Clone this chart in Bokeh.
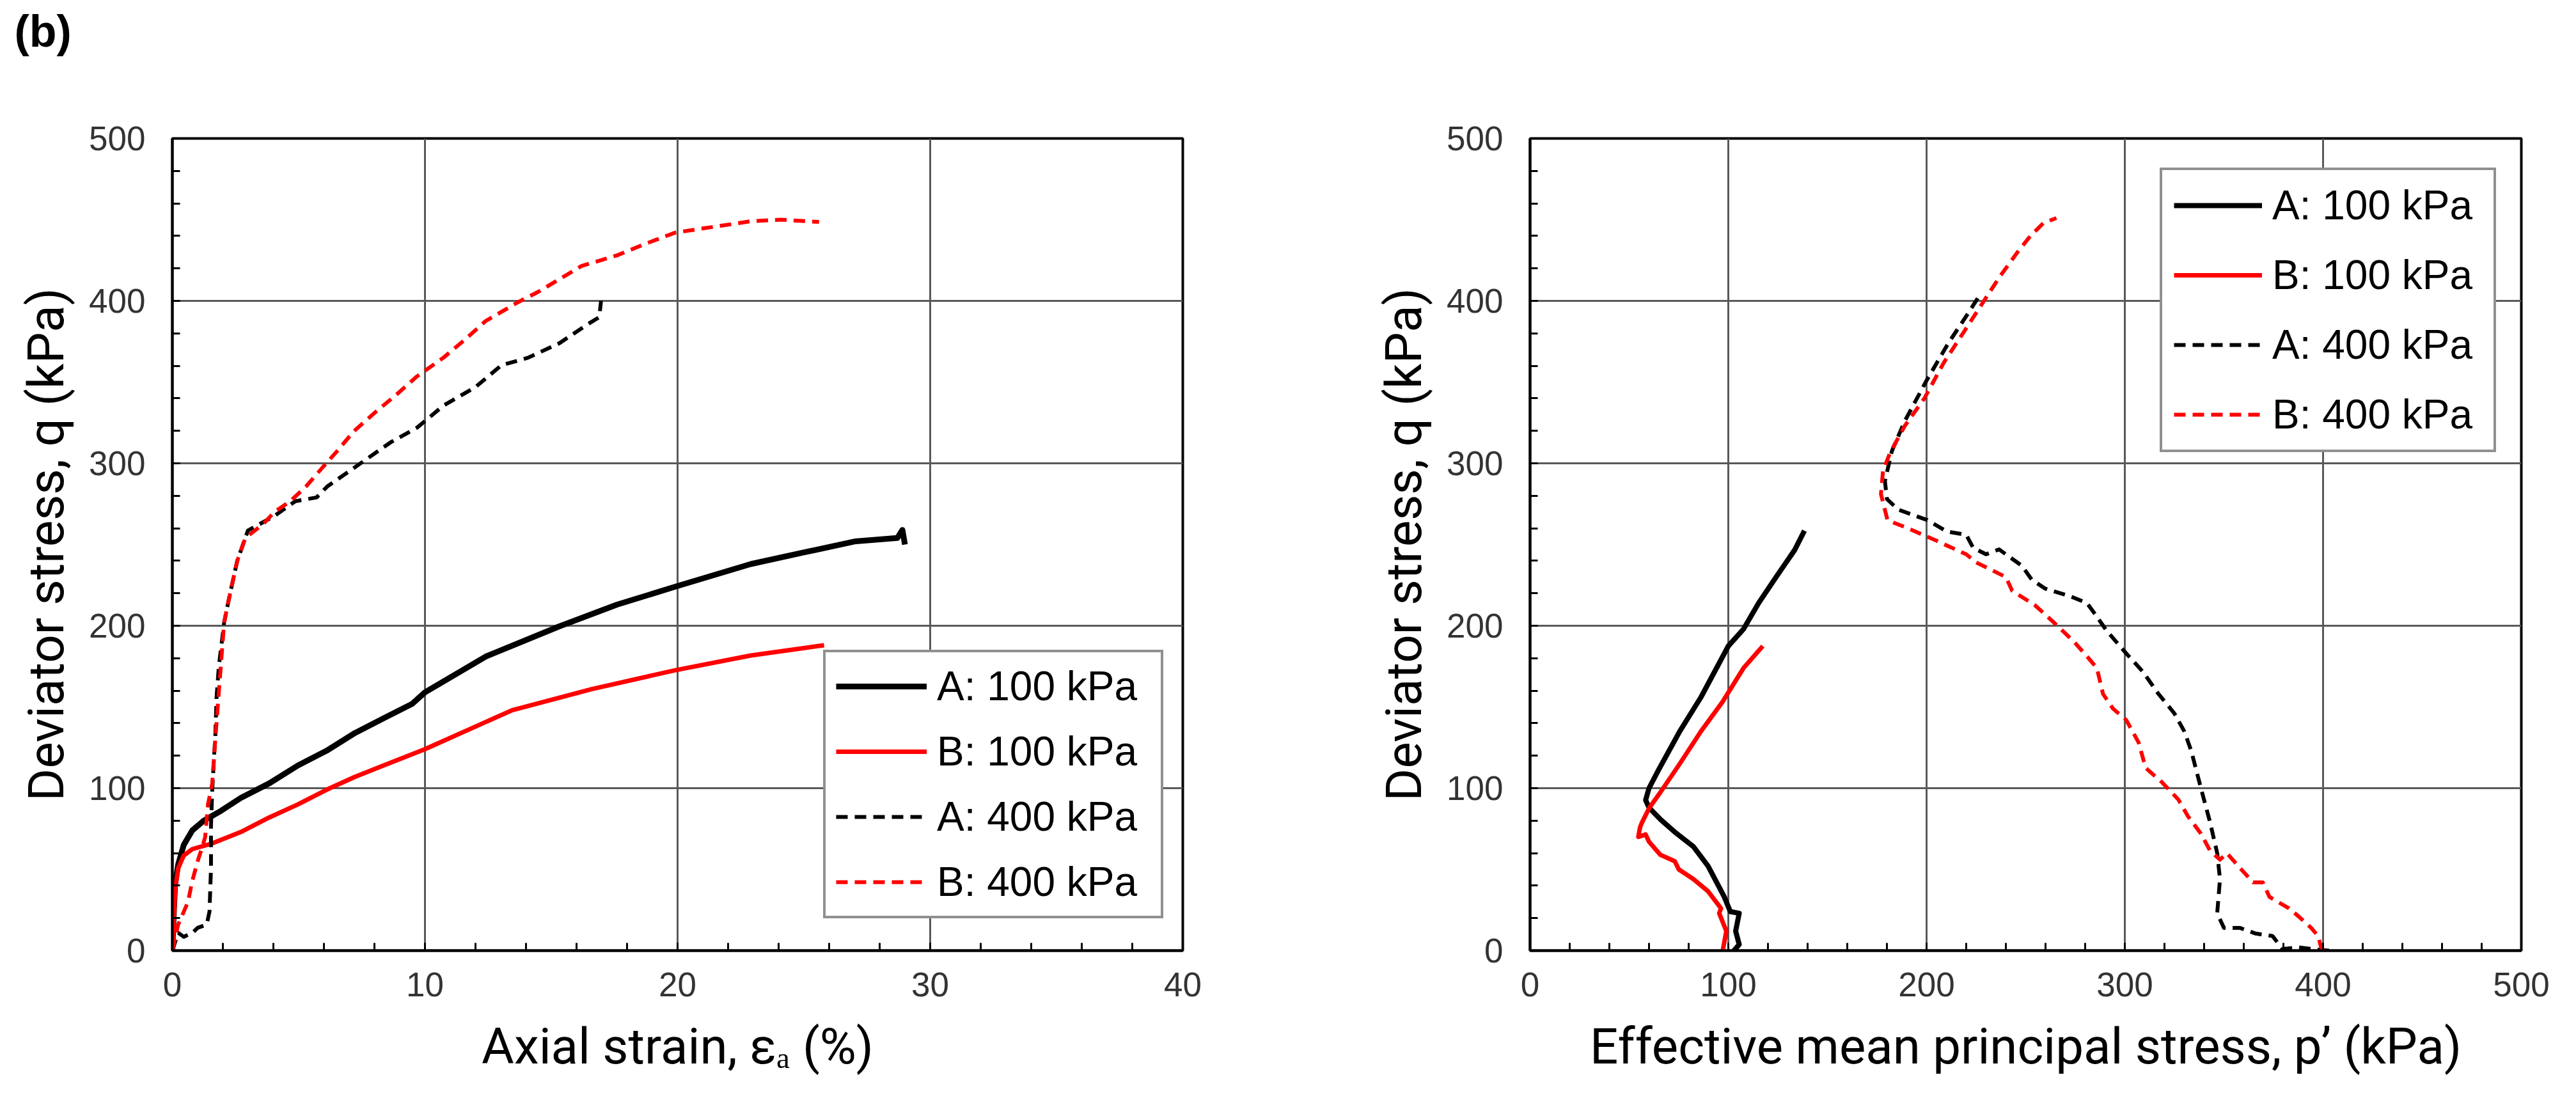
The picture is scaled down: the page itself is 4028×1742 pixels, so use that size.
from bokeh.plotting import figure
from bokeh.models import Range1d, FixedTicker, Title
from bokeh.layouts import row
from bokeh.embed import file_html
from bokeh.resources import INLINE

# ---------------- data: left panel (axial strain %, q kPa) ----------------
a100_strain = [0, 0.06, 0.11, 0.23, 0.45, 0.79, 1.24, 1.92, 2.71, 3.84, 4.97, 6.1, 7.23, 8.36,
               9.5, 10.0, 12.4, 15.3, 17.6, 19.9, 22.9, 24.96, 27.05, 28.7, 28.9, 29.0]
a100_q = [0, 24, 41, 53, 65, 74, 80, 86, 94, 103, 114, 123, 134, 143,
          152, 159, 181, 199.5, 213, 224, 238, 245, 252, 254, 259, 250]

b100_strain = [0, 0.11, 0.23, 0.45, 0.79, 1.58, 2.71, 3.84, 4.97, 6.1, 7.23, 8.36, 10.0,
               13.45, 16.6, 19.9, 22.9, 25.8]
b100_q = [0, 37.5, 50.6, 58.5, 62.5, 66, 73, 82, 90, 99, 107, 114, 124,
          148, 161, 172.6, 181.7, 188]

a400_strain = [0, 0.23, 0.45, 0.8, 1.0, 1.36, 1.47, 1.53, 1.53, 1.58, 1.64, 1.7, 1.75, 1.84,
               2.05, 2.26, 2.57, 2.99, 4.04, 4.87, 5.71, 6.13, 6.97, 7.8, 8.64, 9.69, 10.73,
               11.99, 13.03, 14.08, 15.33, 16.38, 16.9, 16.97]
a400_q = [0, 11, 8.5, 11, 14, 16, 24, 51, 77, 99, 116, 132, 156, 175,
          202, 218, 240, 258.6, 267.6, 276.7, 279, 285.7, 294.8, 303.8, 312.9, 322, 335.5,
          346.8, 360.4, 365, 374, 385, 390, 400]

b400_strain = [0, 0.23, 0.62, 0.79, 1.02, 1.19, 1.3, 1.41, 1.58, 1.7, 1.82, 2.05, 2.26, 2.57,
               2.89, 3.62, 4.04, 4.67, 5.29, 5.92, 6.55, 7.18, 8.0, 8.85, 9.69, 10.73, 11.57,
               12.4, 13.66, 14.5, 16.2, 17.6, 18.7, 19.9, 21.6, 22.9, 24.1, 25.6]
b400_q = [0, 16, 30, 43, 56, 64, 70, 90, 103, 130, 155, 202, 218, 240,
          254, 263, 270, 276.7, 285.7, 297, 308, 319.7, 331, 342, 353.6, 365, 376,
          387.6, 399, 405.7, 421.5, 428, 435, 442, 446, 449, 450, 448.6]

# ---------------- data: right panel (p' kPa, q kPa) ----------------
a100_p = [102.8, 105.5, 103.7, 105.5, 101, 98, 89.8, 82.4, 73, 66, 60, 58.3, 60, 64.7,
          75.5, 86.2, 100, 107.7, 115.3, 123.9, 133.5, 138.4]
a100_pq = [0, 3.8, 12, 23, 24, 33, 52, 64, 73, 80.5, 88, 92.7, 100, 111,
           135, 156, 187.5, 198, 214, 229.6, 246.7, 258.5]

b100_p = [97.2, 99, 95.4, 96.3, 89.8, 82.4, 75, 73, 65.7, 60, 58.3, 54.6, 55.5, 56.5,
          60.2, 65.3, 75.5, 86.2, 97, 107.7, 117.4]
b100_pq = [0, 12, 23, 26, 36.5, 44, 50, 55, 59, 67, 71.5, 70, 76, 79,
           88, 96.7, 115, 135, 153, 174, 187.5]

a400_p = [403, 394, 387.7, 379.5, 374.5, 366, 358, 350, 346.6, 348, 346.6, 343, 338.4,
          333.5, 330, 325, 317, 308.9, 300.7, 290.8, 285.9, 280.9, 272.7, 259.6, 253, 248,
          236.6, 230, 223.5, 220, 210.3, 200.5, 185.7, 180, 179, 182.5, 189, 200, 211,
          219.7, 226]
a400_pq = [0, 1, 2, 1, 9, 10.5, 14, 14, 23, 44, 60, 79, 100,
           123, 135, 146, 158, 172, 183, 197, 205.6, 214, 218, 223, 228.5, 237,
           247, 244, 248, 256, 258, 265, 271.5, 278, 289, 307.5, 326, 351, 374,
           390, 402]

b400_p = [400, 399, 397.5, 394, 387.7, 382.8, 373, 369.6, 364.7, 358, 351.5, 348, 343,
          338.4, 331.9, 327, 318.7, 310.5, 307, 300.7, 294, 289, 285.9, 281, 274.5, 266,
          254.7, 243.2, 240, 225, 220, 203.8, 190.6, 180.3, 177, 178, 181.4, 189, 198.9,
          208.7, 218.6, 228.4, 237, 245.9, 252.4, 259, 265.5]
b400_pq = [0, 2, 9, 14, 21, 26, 33, 42, 42, 51, 60, 56, 61.5,
           72, 82.6, 93, 103.7, 112.5, 128, 142, 149, 158, 174, 181, 190, 200,
           212.6, 221.5, 230, 239, 244, 253, 260, 265, 281, 295, 306, 323, 340,
           362, 380.5, 399, 415, 430, 440, 448, 451]

series_labels = ["A: 100 kPa", "B: 100 kPa", "A: 400 kPa", "B: 400 kPa"]
panel_tag = "(b)"

left_xticks = [0, 10, 20, 30, 40]
left_xminor = [v for v in range(0, 41, 2)]
right_xticks = [0, 100, 200, 300, 400, 500]
right_xminor = [v for v in range(0, 501, 20)]
yticks = [0, 100, 200, 300, 400, 500]
yminor = [v for v in range(0, 501, 20)]

TICK_FONT = "Liberation Sans"
TITLE_FONT = "Roboto"
BLACK = "#000000"
RED = "#ff0000"
DASH = "18 11"


def make_fig(xmax, xticks, xminor, xlabel, ylabel, frame_w, mb_left, mb_right):
    p = figure(frame_width=frame_w, frame_height=1270,
               x_range=Range1d(0, xmax), y_range=Range1d(0, 500),
               output_backend="svg", toolbar_location=None,
               min_border_left=mb_left, min_border_right=mb_right,
               min_border_top=216, min_border_bottom=230)
    p.xaxis.ticker = FixedTicker(ticks=xticks, minor_ticks=xminor)
    p.yaxis.ticker = FixedTicker(ticks=yticks, minor_ticks=yminor)
    p.xaxis.axis_label = xlabel
    p.yaxis.axis_label = ylabel
    for ax in (p.xaxis[0], p.yaxis[0]):
        ax.axis_line_color = BLACK
        ax.axis_line_width = 4
        ax.major_tick_in = 12
        ax.major_tick_out = 0
        ax.minor_tick_in = 12
        ax.minor_tick_out = 0
        ax.major_tick_line_color = BLACK
        ax.major_tick_line_width = 3
        ax.minor_tick_line_color = BLACK
        ax.minor_tick_line_width = 3
        ax.major_label_text_font = TICK_FONT
        ax.major_label_text_font_size = "53px"
        ax.major_label_text_color = "#333333"
        ax.axis_label_text_font = TITLE_FONT
        ax.axis_label_text_font_size = "78px"
        ax.axis_label_text_font_style = "normal"
        ax.axis_label_text_color = BLACK
    p.xaxis.major_label_standoff = 34
    p.yaxis.major_label_standoff = 42
    p.xaxis.axis_label_standoff = 30
    p.yaxis.axis_label_standoff = 18
    p.xgrid.grid_line_color = "#595959"
    p.ygrid.grid_line_color = "#595959"
    p.xgrid.grid_line_width = 3
    p.ygrid.grid_line_width = 3
    p.outline_line_color = BLACK
    p.outline_line_width = 4
    p.outline_line_alpha = 1.0
    return p


def style_legend(p, loc, padding, spacing, label_width, glyph_width):
    lg = p.legend[0]
    lg.location = loc
    lg.margin = 0
    lg.padding = padding
    lg.spacing = spacing
    lg.glyph_width = glyph_width
    lg.glyph_height = 40
    lg.label_standoff = 16
    lg.label_width = label_width
    lg.label_text_font = TICK_FONT
    lg.label_text_font_size = "64px"
    lg.label_text_color = BLACK
    lg.border_line_color = "#222222"
    lg.border_line_width = 4
    lg.background_fill_color = "white"
    lg.background_fill_alpha = 1.0


# ---------------- left panel ----------------
p1 = make_fig(40, left_xticks, left_xminor, "Axial strain, \u03b5\u2090 (%)",
              "Deviator stress, q (kPa)", 1580, 269, 200)
p1.line(a100_strain, a100_q, line_color=BLACK, line_width=9, line_join="round",
        legend_label=series_labels[0])
p1.line(b100_strain, b100_q, line_color=RED, line_width=7, line_join="round",
        legend_label=series_labels[1])
p1.line(a400_strain, a400_q, line_color=BLACK, line_width=6, line_dash=DASH,
        line_join="round", legend_label=series_labels[2])
p1.line(b400_strain, b400_q, line_color=RED, line_width=6, line_dash=DASH,
        line_join="round", legend_label=series_labels[3])
style_legend(p1, (1018, 50), 16, 28, 334, 142)

# spacer panel between the frame and the panel tag
p1.add_layout(Title(text=" ", text_font_size="20px", standoff=105), "above")
p1.title.text = panel_tag
p1.title.text_font = "Liberation Sans"
p1.title.text_font_size = "70px"
p1.title.text_font_style = "bold"
p1.title.text_color = BLACK
p1.title.align = "left"
p1.title.vertical_align = "bottom"
p1.title.offset = -247
p1.title.standoff = 0

# ---------------- right panel ----------------
p2 = make_fig(500, right_xticks, right_xminor,
              "Effective mean principal stress, p\u2019 (kPa)",
              "Deviator stress, q (kPa)", 1550, 343, 60)
p2.line(a100_p, a100_pq, line_color=BLACK, line_width=8, line_join="round",
        legend_label=series_labels[0])
p2.line(b100_p, b100_pq, line_color=RED, line_width=7, line_join="round",
        legend_label=series_labels[1])
p2.line(a400_p, a400_pq, line_color=BLACK, line_width=6, line_dash=DASH,
        line_join="round", legend_label=series_labels[2])
p2.line(b400_p, b400_pq, line_color=RED, line_width=6, line_dash=DASH,
        line_join="round", legend_label=series_labels[3])
style_legend(p2, (985, 779), 18, 35, 328, 138)

layout = row(p1, p2)
open("out.html", "w").write(file_html(layout, INLINE))
